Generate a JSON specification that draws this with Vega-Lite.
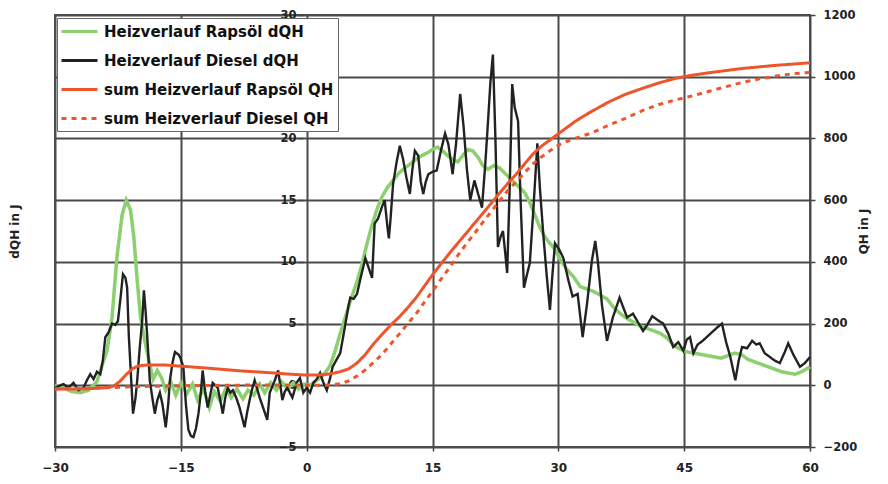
{
  "$schema": "https://vega.github.io/schema/vega-lite/v6.json",
  "autosize": "none",
  "width": 755,
  "height": 432,
  "padding": {"left": 55, "top": 15, "right": 78, "bottom": 37},
  "background": "white",
  "config": {
    "view": {"stroke": "#555", "strokeWidth": 2},
    "font": "DejaVu Sans",
    "axis": {"labelFont": "DejaVu Sans", "labelFontWeight": "bold", "labelFontSize": 11.5, "labelColor": "#222", "titleFont": "DejaVu Sans", "titleFontWeight": "bold", "titleFontSize": 12, "titleColor": "#222", "tickColor": "#444", "tickWidth": 1.5, "gridColor": "#4a4a4a", "gridWidth": 2, "gridOpacity": 1}
  },
  "datasets": {
    "dq": [
      {"s":"Heizverlauf Rapsöl dQH","x":-30,"v":0},{"s":"Heizverlauf Rapsöl dQH","x":-29,"v":-0.2},{"s":"Heizverlauf Rapsöl dQH","x":-28,"v":-0.5},{"s":"Heizverlauf Rapsöl dQH","x":-27,"v":-0.6},{"s":"Heizverlauf Rapsöl dQH","x":-26,"v":-0.4},{"s":"Heizverlauf Rapsöl dQH","x":-25,"v":0.3},{"s":"Heizverlauf Rapsöl dQH","x":-24.3,"v":1.8},{"s":"Heizverlauf Rapsöl dQH","x":-23.8,"v":2.8},{"s":"Heizverlauf Rapsöl dQH","x":-23.2,"v":5.5},{"s":"Heizverlauf Rapsöl dQH","x":-22.6,"v":10.5},{"s":"Heizverlauf Rapsöl dQH","x":-22,"v":13.8},{"s":"Heizverlauf Rapsöl dQH","x":-21.5,"v":15},{"s":"Heizverlauf Rapsöl dQH","x":-21,"v":14.2},{"s":"Heizverlauf Rapsöl dQH","x":-20.6,"v":12},{"s":"Heizverlauf Rapsöl dQH","x":-20.2,"v":8.5},{"s":"Heizverlauf Rapsöl dQH","x":-19.8,"v":5.5},{"s":"Heizverlauf Rapsöl dQH","x":-19.3,"v":3.6},{"s":"Heizverlauf Rapsöl dQH","x":-18.8,"v":2},{"s":"Heizverlauf Rapsöl dQH","x":-18.3,"v":0.5},{"s":"Heizverlauf Rapsöl dQH","x":-17.8,"v":1.2},{"s":"Heizverlauf Rapsöl dQH","x":-17.3,"v":0.6},{"s":"Heizverlauf Rapsöl dQH","x":-16.8,"v":-0.4},{"s":"Heizverlauf Rapsöl dQH","x":-16.2,"v":0.3},{"s":"Heizverlauf Rapsöl dQH","x":-15.6,"v":-0.8},{"s":"Heizverlauf Rapsöl dQH","x":-15,"v":0.2},{"s":"Heizverlauf Rapsöl dQH","x":-14.3,"v":-0.7},{"s":"Heizverlauf Rapsöl dQH","x":-13.6,"v":0.1},{"s":"Heizverlauf Rapsöl dQH","x":-13,"v":-1.2},{"s":"Heizverlauf Rapsöl dQH","x":-12.3,"v":-0.3},{"s":"Heizverlauf Rapsöl dQH","x":-11.6,"v":-1.8},{"s":"Heizverlauf Rapsöl dQH","x":-11,"v":-0.5},{"s":"Heizverlauf Rapsöl dQH","x":-10.3,"v":-1.3},{"s":"Heizverlauf Rapsöl dQH","x":-9.6,"v":-0.2},{"s":"Heizverlauf Rapsöl dQH","x":-9,"v":-1},{"s":"Heizverlauf Rapsöl dQH","x":-8.3,"v":-0.3},{"s":"Heizverlauf Rapsöl dQH","x":-7.6,"v":-1.1},{"s":"Heizverlauf Rapsöl dQH","x":-7,"v":-0.4},{"s":"Heizverlauf Rapsöl dQH","x":-6.3,"v":-0.8},{"s":"Heizverlauf Rapsöl dQH","x":-5.6,"v":0.1},{"s":"Heizverlauf Rapsöl dQH","x":-5,"v":-0.6},{"s":"Heizverlauf Rapsöl dQH","x":-4.3,"v":0.2},{"s":"Heizverlauf Rapsöl dQH","x":-3.6,"v":-0.4},{"s":"Heizverlauf Rapsöl dQH","x":-3,"v":0.3},{"s":"Heizverlauf Rapsöl dQH","x":-2.3,"v":-0.3},{"s":"Heizverlauf Rapsöl dQH","x":-1.6,"v":0.2},{"s":"Heizverlauf Rapsöl dQH","x":-1,"v":-0.3},{"s":"Heizverlauf Rapsöl dQH","x":-0.3,"v":0.1},{"s":"Heizverlauf Rapsöl dQH","x":0.4,"v":0},{"s":"Heizverlauf Rapsöl dQH","x":1,"v":0.3},{"s":"Heizverlauf Rapsöl dQH","x":1.6,"v":0.6},{"s":"Heizverlauf Rapsöl dQH","x":2.2,"v":1},{"s":"Heizverlauf Rapsöl dQH","x":2.8,"v":1.6},{"s":"Heizverlauf Rapsöl dQH","x":3.4,"v":2.8},{"s":"Heizverlauf Rapsöl dQH","x":4,"v":4.2},{"s":"Heizverlauf Rapsöl dQH","x":4.6,"v":5.5},{"s":"Heizverlauf Rapsöl dQH","x":5.2,"v":6.8},{"s":"Heizverlauf Rapsöl dQH","x":6,"v":8.4},{"s":"Heizverlauf Rapsöl dQH","x":6.6,"v":9.8},{"s":"Heizverlauf Rapsöl dQH","x":7.2,"v":11.5},{"s":"Heizverlauf Rapsöl dQH","x":7.8,"v":13},{"s":"Heizverlauf Rapsöl dQH","x":8.4,"v":14.3},{"s":"Heizverlauf Rapsöl dQH","x":9,"v":15.3},{"s":"Heizverlauf Rapsöl dQH","x":9.6,"v":16},{"s":"Heizverlauf Rapsöl dQH","x":10.3,"v":16.6},{"s":"Heizverlauf Rapsöl dQH","x":11,"v":17.2},{"s":"Heizverlauf Rapsöl dQH","x":11.7,"v":17.6},{"s":"Heizverlauf Rapsöl dQH","x":12.3,"v":17.9},{"s":"Heizverlauf Rapsöl dQH","x":13,"v":18.3},{"s":"Heizverlauf Rapsöl dQH","x":13.7,"v":18.6},{"s":"Heizverlauf Rapsöl dQH","x":14.3,"v":18.8},{"s":"Heizverlauf Rapsöl dQH","x":15,"v":19.1},{"s":"Heizverlauf Rapsöl dQH","x":15.6,"v":19.3},{"s":"Heizverlauf Rapsöl dQH","x":16.2,"v":19},{"s":"Heizverlauf Rapsöl dQH","x":16.8,"v":18.6},{"s":"Heizverlauf Rapsöl dQH","x":17.4,"v":18.3},{"s":"Heizverlauf Rapsöl dQH","x":18,"v":18.1},{"s":"Heizverlauf Rapsöl dQH","x":18.6,"v":18.6},{"s":"Heizverlauf Rapsöl dQH","x":19.2,"v":19.1},{"s":"Heizverlauf Rapsöl dQH","x":19.8,"v":19},{"s":"Heizverlauf Rapsöl dQH","x":20.4,"v":18.5},{"s":"Heizverlauf Rapsöl dQH","x":21,"v":17.8},{"s":"Heizverlauf Rapsöl dQH","x":21.6,"v":17.5},{"s":"Heizverlauf Rapsöl dQH","x":22.3,"v":17.8},{"s":"Heizverlauf Rapsöl dQH","x":23,"v":17.6},{"s":"Heizverlauf Rapsöl dQH","x":23.6,"v":17.2},{"s":"Heizverlauf Rapsöl dQH","x":24.2,"v":16.8},{"s":"Heizverlauf Rapsöl dQH","x":24.8,"v":16.4},{"s":"Heizverlauf Rapsöl dQH","x":25.4,"v":16},{"s":"Heizverlauf Rapsöl dQH","x":26,"v":15.6},{"s":"Heizverlauf Rapsöl dQH","x":26.6,"v":14.8},{"s":"Heizverlauf Rapsöl dQH","x":27.2,"v":13.8},{"s":"Heizverlauf Rapsöl dQH","x":27.8,"v":12.8},{"s":"Heizverlauf Rapsöl dQH","x":28.4,"v":12},{"s":"Heizverlauf Rapsöl dQH","x":29,"v":11.5},{"s":"Heizverlauf Rapsöl dQH","x":29.6,"v":11},{"s":"Heizverlauf Rapsöl dQH","x":30.2,"v":10.2},{"s":"Heizverlauf Rapsöl dQH","x":31,"v":9.4},{"s":"Heizverlauf Rapsöl dQH","x":31.8,"v":8.8},{"s":"Heizverlauf Rapsöl dQH","x":32.6,"v":8},{"s":"Heizverlauf Rapsöl dQH","x":33.4,"v":7.8},{"s":"Heizverlauf Rapsöl dQH","x":34.2,"v":7.6},{"s":"Heizverlauf Rapsöl dQH","x":35,"v":7.3},{"s":"Heizverlauf Rapsöl dQH","x":35.8,"v":7},{"s":"Heizverlauf Rapsöl dQH","x":36.6,"v":6.3},{"s":"Heizverlauf Rapsöl dQH","x":37.4,"v":5.8},{"s":"Heizverlauf Rapsöl dQH","x":38.2,"v":5.4},{"s":"Heizverlauf Rapsöl dQH","x":39,"v":5.1},{"s":"Heizverlauf Rapsöl dQH","x":39.8,"v":4.8},{"s":"Heizverlauf Rapsöl dQH","x":40.6,"v":4.6},{"s":"Heizverlauf Rapsöl dQH","x":41.4,"v":4.4},{"s":"Heizverlauf Rapsöl dQH","x":42.2,"v":4.2},{"s":"Heizverlauf Rapsöl dQH","x":43,"v":3.8},{"s":"Heizverlauf Rapsöl dQH","x":43.8,"v":3.2},{"s":"Heizverlauf Rapsöl dQH","x":44.6,"v":2.9},{"s":"Heizverlauf Rapsöl dQH","x":45.4,"v":2.7},{"s":"Heizverlauf Rapsöl dQH","x":46.2,"v":2.6},{"s":"Heizverlauf Rapsöl dQH","x":47,"v":2.5},{"s":"Heizverlauf Rapsöl dQH","x":47.8,"v":2.4},{"s":"Heizverlauf Rapsöl dQH","x":48.6,"v":2.3},{"s":"Heizverlauf Rapsöl dQH","x":49.4,"v":2.2},{"s":"Heizverlauf Rapsöl dQH","x":50.2,"v":2.4},{"s":"Heizverlauf Rapsöl dQH","x":51,"v":2.6},{"s":"Heizverlauf Rapsöl dQH","x":51.8,"v":2.5},{"s":"Heizverlauf Rapsöl dQH","x":52.6,"v":2.1},{"s":"Heizverlauf Rapsöl dQH","x":53.4,"v":1.9},{"s":"Heizverlauf Rapsöl dQH","x":54.2,"v":1.7},{"s":"Heizverlauf Rapsöl dQH","x":55,"v":1.5},{"s":"Heizverlauf Rapsöl dQH","x":55.8,"v":1.3},{"s":"Heizverlauf Rapsöl dQH","x":56.6,"v":1.1},{"s":"Heizverlauf Rapsöl dQH","x":57.4,"v":1},{"s":"Heizverlauf Rapsöl dQH","x":58.2,"v":0.9},{"s":"Heizverlauf Rapsöl dQH","x":59,"v":1.1},{"s":"Heizverlauf Rapsöl dQH","x":60,"v":1.5},
      {"s":"Heizverlauf Diesel dQH","x":-30,"v":-0.2},{"s":"Heizverlauf Diesel dQH","x":-29,"v":0.1},{"s":"Heizverlauf Diesel dQH","x":-28.4,"v":-0.2},{"s":"Heizverlauf Diesel dQH","x":-27.8,"v":0.2},{"s":"Heizverlauf Diesel dQH","x":-27.2,"v":-0.4},{"s":"Heizverlauf Diesel dQH","x":-26.6,"v":-0.2},{"s":"Heizverlauf Diesel dQH","x":-26.2,"v":0.4},{"s":"Heizverlauf Diesel dQH","x":-25.8,"v":0.9},{"s":"Heizverlauf Diesel dQH","x":-25.4,"v":0.5},{"s":"Heizverlauf Diesel dQH","x":-25,"v":1.1},{"s":"Heizverlauf Diesel dQH","x":-24.6,"v":0.9},{"s":"Heizverlauf Diesel dQH","x":-24.3,"v":2},{"s":"Heizverlauf Diesel dQH","x":-24,"v":3.9},{"s":"Heizverlauf Diesel dQH","x":-23.6,"v":4.3},{"s":"Heizverlauf Diesel dQH","x":-23.2,"v":5},{"s":"Heizverlauf Diesel dQH","x":-22.8,"v":4.9},{"s":"Heizverlauf Diesel dQH","x":-22.5,"v":5.2},{"s":"Heizverlauf Diesel dQH","x":-22.2,"v":7},{"s":"Heizverlauf Diesel dQH","x":-21.9,"v":9},{"s":"Heizverlauf Diesel dQH","x":-21.6,"v":8.7},{"s":"Heizverlauf Diesel dQH","x":-21.4,"v":7.9},{"s":"Heizverlauf Diesel dQH","x":-21.2,"v":4},{"s":"Heizverlauf Diesel dQH","x":-21,"v":1.5},{"s":"Heizverlauf Diesel dQH","x":-20.7,"v":-2.3},{"s":"Heizverlauf Diesel dQH","x":-20.4,"v":-1},{"s":"Heizverlauf Diesel dQH","x":-20.2,"v":0.4},{"s":"Heizverlauf Diesel dQH","x":-19.9,"v":3},{"s":"Heizverlauf Diesel dQH","x":-19.6,"v":5.3},{"s":"Heizverlauf Diesel dQH","x":-19.4,"v":7.7},{"s":"Heizverlauf Diesel dQH","x":-19.2,"v":6},{"s":"Heizverlauf Diesel dQH","x":-19,"v":3.9},{"s":"Heizverlauf Diesel dQH","x":-18.7,"v":0.4},{"s":"Heizverlauf Diesel dQH","x":-18.4,"v":-1},{"s":"Heizverlauf Diesel dQH","x":-18.1,"v":-2.3},{"s":"Heizverlauf Diesel dQH","x":-17.8,"v":-1.2},{"s":"Heizverlauf Diesel dQH","x":-17.5,"v":-0.6},{"s":"Heizverlauf Diesel dQH","x":-17.2,"v":-1.5},{"s":"Heizverlauf Diesel dQH","x":-16.8,"v":-3.4},{"s":"Heizverlauf Diesel dQH","x":-16.5,"v":-1.5},{"s":"Heizverlauf Diesel dQH","x":-16.3,"v":0.4},{"s":"Heizverlauf Diesel dQH","x":-16,"v":1.8},{"s":"Heizverlauf Diesel dQH","x":-15.7,"v":2.7},{"s":"Heizverlauf Diesel dQH","x":-15.3,"v":2.5},{"s":"Heizverlauf Diesel dQH","x":-15.1,"v":2.3},{"s":"Heizverlauf Diesel dQH","x":-14.7,"v":1.5},{"s":"Heizverlauf Diesel dQH","x":-14.4,"v":-1.5},{"s":"Heizverlauf Diesel dQH","x":-14.1,"v":-3.6},{"s":"Heizverlauf Diesel dQH","x":-13.8,"v":-4.1},{"s":"Heizverlauf Diesel dQH","x":-13.5,"v":-4.2},{"s":"Heizverlauf Diesel dQH","x":-13.2,"v":-3.5},{"s":"Heizverlauf Diesel dQH","x":-12.9,"v":-2.3},{"s":"Heizverlauf Diesel dQH","x":-12.6,"v":-0.5},{"s":"Heizverlauf Diesel dQH","x":-12.4,"v":1.2},{"s":"Heizverlauf Diesel dQH","x":-12.1,"v":-0.5},{"s":"Heizverlauf Diesel dQH","x":-11.8,"v":-1.8},{"s":"Heizverlauf Diesel dQH","x":-11.5,"v":-0.8},{"s":"Heizverlauf Diesel dQH","x":-11.2,"v":0.2},{"s":"Heizverlauf Diesel dQH","x":-10.9,"v":0},{"s":"Heizverlauf Diesel dQH","x":-10.6,"v":-0.2},{"s":"Heizverlauf Diesel dQH","x":-10.3,"v":-1.2},{"s":"Heizverlauf Diesel dQH","x":-10,"v":-2.3},{"s":"Heizverlauf Diesel dQH","x":-9.7,"v":-1},{"s":"Heizverlauf Diesel dQH","x":-9.4,"v":-0.2},{"s":"Heizverlauf Diesel dQH","x":-9.1,"v":-0.6},{"s":"Heizverlauf Diesel dQH","x":-8.8,"v":-0.4},{"s":"Heizverlauf Diesel dQH","x":-8.4,"v":-1},{"s":"Heizverlauf Diesel dQH","x":-8,"v":-1.8},{"s":"Heizverlauf Diesel dQH","x":-7.7,"v":-2.6},{"s":"Heizverlauf Diesel dQH","x":-7.4,"v":-3.4},{"s":"Heizverlauf Diesel dQH","x":-7.1,"v":-2.2},{"s":"Heizverlauf Diesel dQH","x":-6.8,"v":-1.2},{"s":"Heizverlauf Diesel dQH","x":-6.5,"v":-0.3},{"s":"Heizverlauf Diesel dQH","x":-6.2,"v":0.4},{"s":"Heizverlauf Diesel dQH","x":-5.9,"v":-0.3},{"s":"Heizverlauf Diesel dQH","x":-5.6,"v":-1},{"s":"Heizverlauf Diesel dQH","x":-5.2,"v":-1.8},{"s":"Heizverlauf Diesel dQH","x":-4.7,"v":-2.8},{"s":"Heizverlauf Diesel dQH","x":-4.4,"v":-0.6},{"s":"Heizverlauf Diesel dQH","x":-4.1,"v":-0.1},{"s":"Heizverlauf Diesel dQH","x":-3.8,"v":0.4},{"s":"Heizverlauf Diesel dQH","x":-3.4,"v":1.2},{"s":"Heizverlauf Diesel dQH","x":-3.1,"v":-0.2},{"s":"Heizverlauf Diesel dQH","x":-2.9,"v":-1.2},{"s":"Heizverlauf Diesel dQH","x":-2.6,"v":-0.5},{"s":"Heizverlauf Diesel dQH","x":-2.3,"v":-0.2},{"s":"Heizverlauf Diesel dQH","x":-2,"v":-0.6},{"s":"Heizverlauf Diesel dQH","x":-1.7,"v":-1},{"s":"Heizverlauf Diesel dQH","x":-1.4,"v":-0.3},{"s":"Heizverlauf Diesel dQH","x":-1.2,"v":0.2},{"s":"Heizverlauf Diesel dQH","x":-0.8,"v":0.6},{"s":"Heizverlauf Diesel dQH","x":-0.4,"v":-0.6},{"s":"Heizverlauf Diesel dQH","x":0,"v":-0.2},{"s":"Heizverlauf Diesel dQH","x":0.4,"v":-0.6},{"s":"Heizverlauf Diesel dQH","x":0.8,"v":0.2},{"s":"Heizverlauf Diesel dQH","x":1.2,"v":0.5},{"s":"Heizverlauf Diesel dQH","x":1.6,"v":1},{"s":"Heizverlauf Diesel dQH","x":2,"v":0.2},{"s":"Heizverlauf Diesel dQH","x":2.4,"v":-0.4},{"s":"Heizverlauf Diesel dQH","x":2.8,"v":0.6},{"s":"Heizverlauf Diesel dQH","x":3.1,"v":1.5},{"s":"Heizverlauf Diesel dQH","x":3.5,"v":2},{"s":"Heizverlauf Diesel dQH","x":4,"v":2.6},{"s":"Heizverlauf Diesel dQH","x":4.5,"v":4.5},{"s":"Heizverlauf Diesel dQH","x":5,"v":6.5},{"s":"Heizverlauf Diesel dQH","x":5.2,"v":7.1},{"s":"Heizverlauf Diesel dQH","x":5.6,"v":7},{"s":"Heizverlauf Diesel dQH","x":6,"v":7.4},{"s":"Heizverlauf Diesel dQH","x":6.5,"v":8.9},{"s":"Heizverlauf Diesel dQH","x":7,"v":10.3},{"s":"Heizverlauf Diesel dQH","x":7.4,"v":9.5},{"s":"Heizverlauf Diesel dQH","x":7.8,"v":8.7},{"s":"Heizverlauf Diesel dQH","x":8.1,"v":13.1},{"s":"Heizverlauf Diesel dQH","x":8.5,"v":13.5},{"s":"Heizverlauf Diesel dQH","x":9,"v":14.5},{"s":"Heizverlauf Diesel dQH","x":9.3,"v":15},{"s":"Heizverlauf Diesel dQH","x":9.6,"v":13},{"s":"Heizverlauf Diesel dQH","x":9.8,"v":11.9},{"s":"Heizverlauf Diesel dQH","x":10,"v":13.5},{"s":"Heizverlauf Diesel dQH","x":10.3,"v":16.3},{"s":"Heizverlauf Diesel dQH","x":10.7,"v":18},{"s":"Heizverlauf Diesel dQH","x":11.1,"v":19.4},{"s":"Heizverlauf Diesel dQH","x":11.5,"v":18.3},{"s":"Heizverlauf Diesel dQH","x":11.9,"v":16.8},{"s":"Heizverlauf Diesel dQH","x":12.3,"v":15.5},{"s":"Heizverlauf Diesel dQH","x":12.6,"v":17.5},{"s":"Heizverlauf Diesel dQH","x":12.9,"v":19},{"s":"Heizverlauf Diesel dQH","x":13.3,"v":18.6},{"s":"Heizverlauf Diesel dQH","x":13.6,"v":16.5},{"s":"Heizverlauf Diesel dQH","x":13.9,"v":15.5},{"s":"Heizverlauf Diesel dQH","x":14.2,"v":16.5},{"s":"Heizverlauf Diesel dQH","x":14.5,"v":17.1},{"s":"Heizverlauf Diesel dQH","x":15,"v":17.3},{"s":"Heizverlauf Diesel dQH","x":15.5,"v":17.4},{"s":"Heizverlauf Diesel dQH","x":16,"v":19},{"s":"Heizverlauf Diesel dQH","x":16.5,"v":20.4},{"s":"Heizverlauf Diesel dQH","x":16.9,"v":19.5},{"s":"Heizverlauf Diesel dQH","x":17.4,"v":17.1},{"s":"Heizverlauf Diesel dQH","x":17.8,"v":19.5},{"s":"Heizverlauf Diesel dQH","x":18.3,"v":23.6},{"s":"Heizverlauf Diesel dQH","x":18.7,"v":21},{"s":"Heizverlauf Diesel dQH","x":19.1,"v":17.5},{"s":"Heizverlauf Diesel dQH","x":19.5,"v":15},{"s":"Heizverlauf Diesel dQH","x":20,"v":16.6},{"s":"Heizverlauf Diesel dQH","x":20.4,"v":15.6},{"s":"Heizverlauf Diesel dQH","x":20.9,"v":14.4},{"s":"Heizverlauf Diesel dQH","x":21.3,"v":18},{"s":"Heizverlauf Diesel dQH","x":21.6,"v":21.2},{"s":"Heizverlauf Diesel dQH","x":21.9,"v":24.5},{"s":"Heizverlauf Diesel dQH","x":22.2,"v":26.8},{"s":"Heizverlauf Diesel dQH","x":22.5,"v":20},{"s":"Heizverlauf Diesel dQH","x":22.8,"v":11.2},{"s":"Heizverlauf Diesel dQH","x":23.1,"v":12},{"s":"Heizverlauf Diesel dQH","x":23.4,"v":12.5},{"s":"Heizverlauf Diesel dQH","x":23.7,"v":10.5},{"s":"Heizverlauf Diesel dQH","x":23.9,"v":9.1},{"s":"Heizverlauf Diesel dQH","x":24.2,"v":16},{"s":"Heizverlauf Diesel dQH","x":24.5,"v":24.4},{"s":"Heizverlauf Diesel dQH","x":24.8,"v":22.5},{"s":"Heizverlauf Diesel dQH","x":25.2,"v":21.4},{"s":"Heizverlauf Diesel dQH","x":25.5,"v":15},{"s":"Heizverlauf Diesel dQH","x":25.9,"v":7.9},{"s":"Heizverlauf Diesel dQH","x":26.2,"v":8.8},{"s":"Heizverlauf Diesel dQH","x":26.6,"v":9.9},{"s":"Heizverlauf Diesel dQH","x":27,"v":14},{"s":"Heizverlauf Diesel dQH","x":27.5,"v":19.6},{"s":"Heizverlauf Diesel dQH","x":27.8,"v":16},{"s":"Heizverlauf Diesel dQH","x":28.2,"v":12.3},{"s":"Heizverlauf Diesel dQH","x":28.6,"v":9},{"s":"Heizverlauf Diesel dQH","x":29,"v":6.1},{"s":"Heizverlauf Diesel dQH","x":29.3,"v":9},{"s":"Heizverlauf Diesel dQH","x":29.6,"v":11.5},{"s":"Heizverlauf Diesel dQH","x":30.1,"v":11},{"s":"Heizverlauf Diesel dQH","x":30.6,"v":10.3},{"s":"Heizverlauf Diesel dQH","x":31.2,"v":8.5},{"s":"Heizverlauf Diesel dQH","x":31.7,"v":7.2},{"s":"Heizverlauf Diesel dQH","x":32.3,"v":7.4},{"s":"Heizverlauf Diesel dQH","x":32.9,"v":3.9},{"s":"Heizverlauf Diesel dQH","x":33.4,"v":6.5},{"s":"Heizverlauf Diesel dQH","x":34,"v":10.1},{"s":"Heizverlauf Diesel dQH","x":34.4,"v":11.7},{"s":"Heizverlauf Diesel dQH","x":34.7,"v":10.1},{"s":"Heizverlauf Diesel dQH","x":35.2,"v":6.5},{"s":"Heizverlauf Diesel dQH","x":35.8,"v":3.6},{"s":"Heizverlauf Diesel dQH","x":36.5,"v":5.5},{"s":"Heizverlauf Diesel dQH","x":37.3,"v":7.1},{"s":"Heizverlauf Diesel dQH","x":37.8,"v":6.2},{"s":"Heizverlauf Diesel dQH","x":38.2,"v":5.5},{"s":"Heizverlauf Diesel dQH","x":38.9,"v":5.8},{"s":"Heizverlauf Diesel dQH","x":39.5,"v":5.1},{"s":"Heizverlauf Diesel dQH","x":40.1,"v":4.4},{"s":"Heizverlauf Diesel dQH","x":40.6,"v":4.9},{"s":"Heizverlauf Diesel dQH","x":41.2,"v":5.6},{"s":"Heizverlauf Diesel dQH","x":41.8,"v":5.3},{"s":"Heizverlauf Diesel dQH","x":42.5,"v":5},{"s":"Heizverlauf Diesel dQH","x":43.1,"v":4.2},{"s":"Heizverlauf Diesel dQH","x":43.7,"v":3.1},{"s":"Heizverlauf Diesel dQH","x":44.3,"v":3.5},{"s":"Heizverlauf Diesel dQH","x":44.9,"v":2.8},{"s":"Heizverlauf Diesel dQH","x":45.3,"v":3.7},{"s":"Heizverlauf Diesel dQH","x":45.7,"v":3.9},{"s":"Heizverlauf Diesel dQH","x":46.1,"v":2.6},{"s":"Heizverlauf Diesel dQH","x":46.6,"v":3.3},{"s":"Heizverlauf Diesel dQH","x":47.2,"v":3.6},{"s":"Heizverlauf Diesel dQH","x":48,"v":4.1},{"s":"Heizverlauf Diesel dQH","x":48.8,"v":4.6},{"s":"Heizverlauf Diesel dQH","x":49.5,"v":5},{"s":"Heizverlauf Diesel dQH","x":50,"v":3.5},{"s":"Heizverlauf Diesel dQH","x":50.5,"v":2.3},{"s":"Heizverlauf Diesel dQH","x":51.1,"v":0.4},{"s":"Heizverlauf Diesel dQH","x":51.5,"v":2},{"s":"Heizverlauf Diesel dQH","x":51.9,"v":3.1},{"s":"Heizverlauf Diesel dQH","x":52.5,"v":3},{"s":"Heizverlauf Diesel dQH","x":53.1,"v":3.6},{"s":"Heizverlauf Diesel dQH","x":53.6,"v":3.3},{"s":"Heizverlauf Diesel dQH","x":54,"v":3.4},{"s":"Heizverlauf Diesel dQH","x":54.6,"v":2.6},{"s":"Heizverlauf Diesel dQH","x":55.2,"v":2.3},{"s":"Heizverlauf Diesel dQH","x":55.8,"v":2},{"s":"Heizverlauf Diesel dQH","x":56.4,"v":1.8},{"s":"Heizverlauf Diesel dQH","x":57,"v":2.7},{"s":"Heizverlauf Diesel dQH","x":57.4,"v":3.4},{"s":"Heizverlauf Diesel dQH","x":58,"v":2.5},{"s":"Heizverlauf Diesel dQH","x":58.8,"v":1.5},{"s":"Heizverlauf Diesel dQH","x":59.4,"v":1.8},{"s":"Heizverlauf Diesel dQH","x":60,"v":2.3}
    ],
    "qh": [
      {"s":"sum Heizverlauf Rapsöl QH","x":-30,"q":-12},{"s":"sum Heizverlauf Rapsöl QH","x":-28,"q":-12},{"s":"sum Heizverlauf Rapsöl QH","x":-26,"q":-11},{"s":"sum Heizverlauf Rapsöl QH","x":-24,"q":-8},{"s":"sum Heizverlauf Rapsöl QH","x":-23,"q":-3},{"s":"sum Heizverlauf Rapsöl QH","x":-22.3,"q":12},{"s":"sum Heizverlauf Rapsöl QH","x":-21.5,"q":35},{"s":"sum Heizverlauf Rapsöl QH","x":-20.7,"q":55},{"s":"sum Heizverlauf Rapsöl QH","x":-20,"q":63},{"s":"sum Heizverlauf Rapsöl QH","x":-19,"q":66},{"s":"sum Heizverlauf Rapsöl QH","x":-17,"q":66},{"s":"sum Heizverlauf Rapsöl QH","x":-15,"q":62},{"s":"sum Heizverlauf Rapsöl QH","x":-12,"q":56},{"s":"sum Heizverlauf Rapsöl QH","x":-8,"q":47},{"s":"sum Heizverlauf Rapsöl QH","x":-4,"q":40},{"s":"sum Heizverlauf Rapsöl QH","x":-2,"q":36},{"s":"sum Heizverlauf Rapsöl QH","x":0,"q":33},{"s":"sum Heizverlauf Rapsöl QH","x":2,"q":34},{"s":"sum Heizverlauf Rapsöl QH","x":3,"q":38},{"s":"sum Heizverlauf Rapsöl QH","x":4,"q":44},{"s":"sum Heizverlauf Rapsöl QH","x":5,"q":53},{"s":"sum Heizverlauf Rapsöl QH","x":6,"q":72},{"s":"sum Heizverlauf Rapsöl QH","x":7,"q":100},{"s":"sum Heizverlauf Rapsöl QH","x":8,"q":135},{"s":"sum Heizverlauf Rapsöl QH","x":9,"q":165},{"s":"sum Heizverlauf Rapsöl QH","x":10,"q":195},{"s":"sum Heizverlauf Rapsöl QH","x":11,"q":220},{"s":"sum Heizverlauf Rapsöl QH","x":12,"q":250},{"s":"sum Heizverlauf Rapsöl QH","x":13,"q":282},{"s":"sum Heizverlauf Rapsöl QH","x":14,"q":320},{"s":"sum Heizverlauf Rapsöl QH","x":15,"q":358},{"s":"sum Heizverlauf Rapsöl QH","x":16,"q":393},{"s":"sum Heizverlauf Rapsöl QH","x":17,"q":427},{"s":"sum Heizverlauf Rapsöl QH","x":18,"q":460},{"s":"sum Heizverlauf Rapsöl QH","x":19,"q":492},{"s":"sum Heizverlauf Rapsöl QH","x":20,"q":525},{"s":"sum Heizverlauf Rapsöl QH","x":21,"q":557},{"s":"sum Heizverlauf Rapsöl QH","x":22,"q":590},{"s":"sum Heizverlauf Rapsöl QH","x":23,"q":623},{"s":"sum Heizverlauf Rapsöl QH","x":24,"q":655},{"s":"sum Heizverlauf Rapsöl QH","x":25,"q":685},{"s":"sum Heizverlauf Rapsöl QH","x":26,"q":718},{"s":"sum Heizverlauf Rapsöl QH","x":27,"q":750},{"s":"sum Heizverlauf Rapsöl QH","x":28,"q":775},{"s":"sum Heizverlauf Rapsöl QH","x":29,"q":795},{"s":"sum Heizverlauf Rapsöl QH","x":30,"q":815},{"s":"sum Heizverlauf Rapsöl QH","x":31,"q":835},{"s":"sum Heizverlauf Rapsöl QH","x":32,"q":855},{"s":"sum Heizverlauf Rapsöl QH","x":33,"q":872},{"s":"sum Heizverlauf Rapsöl QH","x":34,"q":888},{"s":"sum Heizverlauf Rapsöl QH","x":36,"q":918},{"s":"sum Heizverlauf Rapsöl QH","x":38,"q":943},{"s":"sum Heizverlauf Rapsöl QH","x":40,"q":962},{"s":"sum Heizverlauf Rapsöl QH","x":42,"q":980},{"s":"sum Heizverlauf Rapsöl QH","x":44,"q":995},{"s":"sum Heizverlauf Rapsöl QH","x":46,"q":1005},{"s":"sum Heizverlauf Rapsöl QH","x":48,"q":1013},{"s":"sum Heizverlauf Rapsöl QH","x":50,"q":1020},{"s":"sum Heizverlauf Rapsöl QH","x":52,"q":1027},{"s":"sum Heizverlauf Rapsöl QH","x":54,"q":1032},{"s":"sum Heizverlauf Rapsöl QH","x":56,"q":1037},{"s":"sum Heizverlauf Rapsöl QH","x":58,"q":1041},{"s":"sum Heizverlauf Rapsöl QH","x":60,"q":1045},
      {"s":"sum Heizverlauf Diesel QH","x":-30,"q":-12},{"s":"sum Heizverlauf Diesel QH","x":-27,"q":-10},{"s":"sum Heizverlauf Diesel QH","x":-24,"q":-8},{"s":"sum Heizverlauf Diesel QH","x":-22,"q":-6},{"s":"sum Heizverlauf Diesel QH","x":-20,"q":-4},{"s":"sum Heizverlauf Diesel QH","x":-15,"q":-2},{"s":"sum Heizverlauf Diesel QH","x":-10,"q":0},{"s":"sum Heizverlauf Diesel QH","x":-5,"q":1},{"s":"sum Heizverlauf Diesel QH","x":0,"q":1},{"s":"sum Heizverlauf Diesel QH","x":2,"q":0},{"s":"sum Heizverlauf Diesel QH","x":3,"q":1},{"s":"sum Heizverlauf Diesel QH","x":4,"q":5},{"s":"sum Heizverlauf Diesel QH","x":5,"q":14},{"s":"sum Heizverlauf Diesel QH","x":6,"q":30},{"s":"sum Heizverlauf Diesel QH","x":7,"q":50},{"s":"sum Heizverlauf Diesel QH","x":8,"q":75},{"s":"sum Heizverlauf Diesel QH","x":9,"q":100},{"s":"sum Heizverlauf Diesel QH","x":10,"q":133},{"s":"sum Heizverlauf Diesel QH","x":11,"q":165},{"s":"sum Heizverlauf Diesel QH","x":12,"q":198},{"s":"sum Heizverlauf Diesel QH","x":13,"q":230},{"s":"sum Heizverlauf Diesel QH","x":14,"q":268},{"s":"sum Heizverlauf Diesel QH","x":15,"q":305},{"s":"sum Heizverlauf Diesel QH","x":16,"q":343},{"s":"sum Heizverlauf Diesel QH","x":17,"q":380},{"s":"sum Heizverlauf Diesel QH","x":18,"q":420},{"s":"sum Heizverlauf Diesel QH","x":19,"q":457},{"s":"sum Heizverlauf Diesel QH","x":20,"q":492},{"s":"sum Heizverlauf Diesel QH","x":21,"q":528},{"s":"sum Heizverlauf Diesel QH","x":22,"q":563},{"s":"sum Heizverlauf Diesel QH","x":23,"q":598},{"s":"sum Heizverlauf Diesel QH","x":24,"q":632},{"s":"sum Heizverlauf Diesel QH","x":25,"q":660},{"s":"sum Heizverlauf Diesel QH","x":26,"q":690},{"s":"sum Heizverlauf Diesel QH","x":27,"q":718},{"s":"sum Heizverlauf Diesel QH","x":28,"q":740},{"s":"sum Heizverlauf Diesel QH","x":29,"q":760},{"s":"sum Heizverlauf Diesel QH","x":30,"q":778},{"s":"sum Heizverlauf Diesel QH","x":31,"q":790},{"s":"sum Heizverlauf Diesel QH","x":32,"q":800},{"s":"sum Heizverlauf Diesel QH","x":34,"q":818},{"s":"sum Heizverlauf Diesel QH","x":36,"q":843},{"s":"sum Heizverlauf Diesel QH","x":38,"q":865},{"s":"sum Heizverlauf Diesel QH","x":40,"q":890},{"s":"sum Heizverlauf Diesel QH","x":42,"q":910},{"s":"sum Heizverlauf Diesel QH","x":44,"q":925},{"s":"sum Heizverlauf Diesel QH","x":46,"q":938},{"s":"sum Heizverlauf Diesel QH","x":48,"q":953},{"s":"sum Heizverlauf Diesel QH","x":50,"q":968},{"s":"sum Heizverlauf Diesel QH","x":52,"q":982},{"s":"sum Heizverlauf Diesel QH","x":54,"q":993},{"s":"sum Heizverlauf Diesel QH","x":56,"q":1002},{"s":"sum Heizverlauf Diesel QH","x":58,"q":1010},{"s":"sum Heizverlauf Diesel QH","x":60,"q":1014}
    ]
  },
  "encoding": {
    "x": {"field": "x", "type": "quantitative", "scale": {"domain": [-30, 60], "nice": false},
      "axis": {"values": [-30, -15, 0, 15, 30, 45, 60], "title": null, "grid": true, "domain": false, "tickSize": 4, "labelPadding": 11, "labelFlush": false, "labelFontSize": 12}},
    "color": {"field": "s", "type": "nominal",
      "scale": {"domain": ["Heizverlauf Rapsöl dQH", "Heizverlauf Diesel dQH", "sum Heizverlauf Rapsöl QH", "sum Heizverlauf Diesel QH"], "range": ["#8ccf6e", "#222222", "#ef552a", "#ef552a"]},
      "legend": {"title": null, "orient": "none", "legendX": 2, "legendY": 3, "fillColor": "white", "strokeColor": "#666", "padding": 4, "symbolType": "M-2.25,0H2.25", "symbolSize": 256, "symbolStrokeWidth": 3, "symbolOffset": 9, "labelFont": "DejaVu Sans", "labelFontWeight": "bold", "labelFontSize": 15, "labelColor": "#111", "labelOffset": 15, "rowPadding": 11, "labelLimit": 300}},
    "strokeDash": {"field": "s", "type": "nominal",
      "scale": {"domain": ["Heizverlauf Rapsöl dQH", "Heizverlauf Diesel dQH", "sum Heizverlauf Rapsöl QH", "sum Heizverlauf Diesel QH"], "range": [[1, 0], [1, 0], [1, 0], [5, 5]]},
      "legend": {"title": null, "orient": "none", "legendX": 2, "legendY": 3, "fillColor": "white", "strokeColor": "#666", "padding": 4, "symbolType": "M-2.25,0H2.25", "symbolSize": 256, "symbolStrokeWidth": 3, "symbolOffset": 9, "labelFont": "DejaVu Sans", "labelFontWeight": "bold", "labelFontSize": 15, "labelColor": "#111", "labelOffset": 15, "rowPadding": 11, "labelLimit": 300}}
  },
  "layer": [
    {
      "data": {"name": "dq"},
      "encoding": {
        "y": {"field": "v", "type": "quantitative", "scale": {"domain": [-5, 30], "nice": false},
          "axis": {"orient": "left", "values": [-5, 0, 5, 10, 15, 20, 25, 30], "labelExpr": "datum.value === 25 ? '' : datum.label", "grid": true, "domain": false, "offset": -248, "tickSize": 5, "labelPadding": 2, "title": "dQH in J", "titleX": -282, "titleY": 216}}
      },
      "layer": [
        {"transform": [{"filter": "datum.s === 'Heizverlauf Rapsöl dQH'"}], "mark": {"type": "line", "strokeWidth": 3.5}},
        {"transform": [{"filter": "datum.s === 'Heizverlauf Diesel dQH'"}], "mark": {"type": "line", "strokeWidth": 2.4}}
      ]
    },
    {
      "data": {"name": "qh"},
      "encoding": {
        "y": {"field": "q", "type": "quantitative", "scale": {"domain": [-200, 1200], "nice": false},
          "axis": {"orient": "right", "values": [-200, 0, 200, 400, 600, 800, 1000, 1200], "format": "d", "grid": false, "domain": false, "tickSize": 5, "labelPadding": 8, "title": "QH in J", "titleAngle": -90, "titlePadding": 14}}
      },
      "layer": [
        {"transform": [{"filter": "datum.s === 'sum Heizverlauf Rapsöl QH'"}], "mark": {"type": "line", "strokeWidth": 3}},
        {"transform": [{"filter": "datum.s === 'sum Heizverlauf Diesel QH'"}], "mark": {"type": "line", "strokeWidth": 3}}
      ]
    }
  ],
  "resolve": {"scale": {"y": "independent"}}
}
